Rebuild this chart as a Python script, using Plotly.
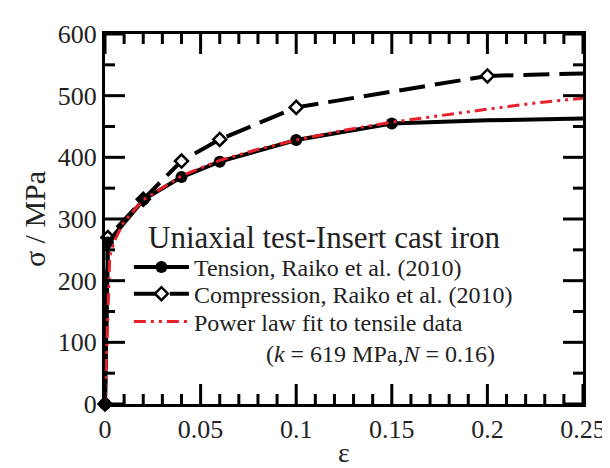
import plotly.graph_objects as go

# Tension (Raiko et al. 2010): points with markers, then curve continuation
ten_eps = [0.0, 0.0015, 0.02, 0.04, 0.06, 0.10, 0.15]
ten_sig = [0, 262, 331, 368, 393, 428, 455]
ten_ext_eps = [0.15, 0.20, 0.25]
ten_ext_sig = [455, 460, 463]

# Compression (Raiko et al. 2010)
com_eps = [0.0, 0.0015, 0.02, 0.04, 0.06, 0.10, 0.20]
com_sig = [0, 270, 332, 394, 429, 481, 532]
com_ext_eps = [0.20, 0.25]
com_ext_sig = [532, 536]

# Power law fit curve (k = 619 MPa, N = 0.16)
fit_eps = [0.0, 0.0025, 0.005, 0.01, 0.02, 0.04, 0.06, 0.08, 0.10, 0.125,
           0.15, 0.175, 0.20, 0.225, 0.25]
fit_sig = [0, 240, 265, 296, 331, 370, 395, 413, 428, 444,
           457, 468, 478, 488, 496]

# Axis ticks (labels are "0", "0.05", ... "0.25" and "0" ... "600")
x_ticks = [0, 0.05, 0.1, 0.15, 0.2, 0.25]
y_ticks = [0, 100, 200, 300, 400, 500, 600]
x_minor_per_major = 5
y_minor_per_major = 2

FONT = "Liberation Serif"
TXT = "#222222"

fig = go.Figure()

fig.add_trace(go.Scatter(
    x=com_ext_eps, y=com_ext_sig, mode="lines", showlegend=False,
    line=dict(color="black", width=4, dash="26px,10px"), hoverinfo="skip"))
fig.add_trace(go.Scatter(
    x=com_eps, y=com_sig, mode="lines+markers",
    name="Compression, Raiko et al. (2010)", legend="legend2",
    line=dict(color="black", width=4, dash="26px,10px"),
    marker=dict(symbol="diamond", size=10, color="white",
                line=dict(color="black", width=2.5)),
    cliponaxis=False))
fig.add_trace(go.Scatter(
    x=ten_ext_eps, y=ten_ext_sig, mode="lines", showlegend=False,
    line=dict(color="black", width=4), hoverinfo="skip"))
fig.add_trace(go.Scatter(
    x=ten_eps, y=ten_sig, mode="lines+markers",
    name="Tension, Raiko et al. (2010)", legend="legend",
    line=dict(color="black", width=4),
    marker=dict(symbol="circle", size=12, color="black"),
    cliponaxis=False))
fig.add_trace(go.Scatter(
    x=fit_eps, y=fit_sig, mode="lines", legend="legend3",
    name="Power law fit to tensile data<br>"
         + "\u00a0" * 12 + "(<i>k</i> = 619 MPa,<i>N</i> = 0.16)",
    line=dict(color="#e8202a", width=3, dash="12px,5px,3px,5px,3px,5px")))

fig.update_xaxes(
    range=[x_ticks[0], x_ticks[-1]], tickmode="linear",
    tick0=x_ticks[0], dtick=x_ticks[1] - x_ticks[0],
    showline=True, linecolor="black", linewidth=3, mirror=True,
    ticks="", showgrid=False, zeroline=False,
    tickfont=dict(family=FONT, size=26, color=TXT),
    title=dict(text="ε", font=dict(family=FONT, size=28, color=TXT), standoff=0),
)
fig.update_yaxes(
    range=[y_ticks[0], y_ticks[-1]], tickmode="linear",
    tick0=y_ticks[0], dtick=y_ticks[1] - y_ticks[0],
    showline=True, linecolor="black", linewidth=3, mirror=True,
    ticks="", showgrid=False, zeroline=False,
    tickfont=dict(family=FONT, size=26, color=TXT),
    title=dict(text="σ\u00a0/\u00a0MPa", font=dict(family=FONT, size=30, color=TXT), standoff=4),
)

# Inward tick marks on all four sides, placed through the axes' own scales
MAJ, MIN = 20, 10
tick_line = dict(color="black", width=3)
shapes = []


def add_x_tick(xv, length):
    shapes.append(dict(type="line", xref="x", yref="y", x0=xv, x1=xv,
                       ysizemode="pixel", yanchor=y_ticks[0], y0=0, y1=length,
                       line=tick_line, layer="above"))
    shapes.append(dict(type="line", xref="x", yref="y", x0=xv, x1=xv,
                       ysizemode="pixel", yanchor=y_ticks[-1], y0=0, y1=-length,
                       line=tick_line, layer="above"))


def add_y_tick(yv, length):
    shapes.append(dict(type="line", xref="x", yref="y", y0=yv, y1=yv,
                       xsizemode="pixel", xanchor=x_ticks[0], x0=0, x1=length,
                       line=tick_line, layer="above"))
    shapes.append(dict(type="line", xref="x", yref="y", y0=yv, y1=yv,
                       xsizemode="pixel", xanchor=x_ticks[-1], x0=0, x1=-length,
                       line=tick_line, layer="above"))


for i, xv in enumerate(x_ticks):
    add_x_tick(xv, MAJ)
    if i + 1 < len(x_ticks):
        step = (x_ticks[i + 1] - xv) / x_minor_per_major
        for k in range(1, x_minor_per_major):
            add_x_tick(xv + k * step, MIN)

for i, yv in enumerate(y_ticks):
    add_y_tick(yv, MAJ)
    if i + 1 < len(y_ticks):
        step = (y_ticks[i + 1] - yv) / y_minor_per_major
        for k in range(1, y_minor_per_major):
            add_y_tick(yv + k * step, MIN)

leg_common = dict(
    xanchor="left", bgcolor="rgba(0,0,0,0)",
    font=dict(family=FONT, size=24, color=TXT),
    itemwidth=55, valign="top",
)

fig.update_layout(
    width=610, height=468,
    margin=dict(l=97, r=27, t=24, b=54),
    plot_bgcolor="white", paper_bgcolor="white",
    shapes=shapes,
    legend=dict(x=0.05, y=0.369, yanchor="middle", **leg_common),
    legend2=dict(x=0.05, y=0.297, yanchor="middle", **leg_common),
    legend3=dict(x=0.05, y=0.180, yanchor="middle", **leg_common),
    annotations=[dict(
        text="Uniaxial test-Insert cast iron", xref="paper", yref="paper",
        x=0.085, y=0.451, xanchor="left", yanchor="middle", showarrow=False,
        font=dict(family=FONT, size=31, color=TXT))],
)

fig.write_html("out.html")
